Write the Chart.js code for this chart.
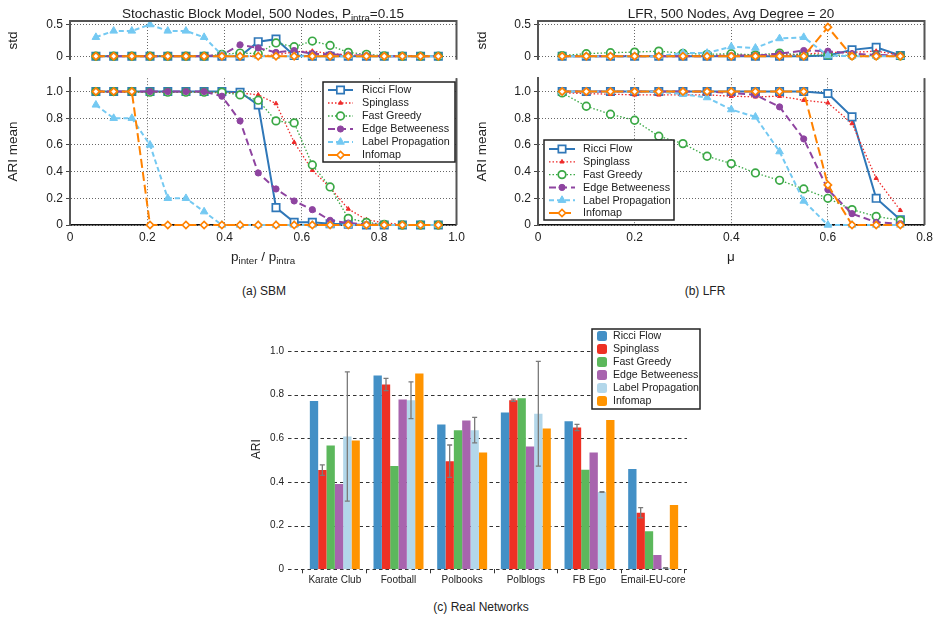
<!DOCTYPE html>
<html>
<head>
<meta charset="utf-8">
<script src="https://cdn.jsdelivr.net/npm/chart.js@4.4.0/dist/chart.umd.min.js"></script>
<style>
body { margin: 0; background: #fff; width: 938px; height: 623px; position: relative; overflow: hidden;
       font-family: "Liberation Sans", Arial, Helvetica, sans-serif; color: #222; }
canvas { position: absolute; }
.t { position: absolute; transform: translate(-50%, -50%); white-space: nowrap; }
.title { font-size: 13.5px; }
.axt { font-size: 13.5px; }
.cap { font-size: 12px; }
sub { font-size: 72%; vertical-align: -0.35em; line-height: 0; }
</style>
</head>
<body>
<canvas id="sbmStd" width="470" height="70" style="left:0px;top:0px"></canvas>
<canvas id="sbmAri" width="470" height="200" style="left:0px;top:68px"></canvas>
<canvas id="lfrStd" width="468" height="70" style="left:470px;top:0px"></canvas>
<canvas id="lfrAri" width="468" height="200" style="left:470px;top:68px"></canvas>
<canvas id="real" width="470" height="280" style="left:240px;top:320px"></canvas>

<div class="t title" style="left:263px;top:13px">Stochastic Block Model, 500 Nodes, P<sub>intra</sub>=0.15</div>
<div class="t title" style="left:731px;top:13px">LFR, 500 Nodes, Avg Degree = 20</div>
<div class="t axt" style="left:263px;top:256px">p<sub>inter</sub> / p<sub>intra</sub></div>
<div class="t axt" style="left:731px;top:256px">μ</div>
<div class="t cap" style="left:264px;top:291px">(a) SBM</div>
<div class="t cap" style="left:705px;top:291px">(b) LFR</div>
<div class="t cap" style="left:481px;top:607px">(c) Real Networks</div>

<script>
const methods = ["Ricci Flow", "Spinglass", "Fast Greedy", "Edge Betweeness", "Label Propagation", "Infomap"];

// SBM: x = p_inter / p_intra
const sbmX = [0.067, 0.113, 0.16, 0.207, 0.253, 0.3, 0.347, 0.393, 0.44, 0.487,
              0.533, 0.58, 0.627, 0.673, 0.72, 0.767, 0.813, 0.86, 0.907, 0.953];
const sbmRicci = [1, 1, 1, 1, 1, 1, 1, 1, 0.995, 0.9, 0.13, 0.02, 0.02, 0.01, 0.005, 0, 0, 0, 0, 0];
const sbmSpin  = [0.995, 0.995, 0.995, 0.995, 0.995, 0.995, 0.995, 0.99, 0.99, 0.975, 0.91, 0.62, 0.41, 0.28, 0.12, 0.04, 0.015, 0.005, 0, 0];
const sbmFast  = [1, 1, 1, 0.995, 0.995, 0.995, 0.995, 0.995, 0.975, 0.935, 0.78, 0.765, 0.45, 0.285, 0.05, 0.02, 0.005, 0, 0, 0];
const sbmEdge  = [1, 1, 1, 1, 1, 1, 1, 0.965, 0.78, 0.39, 0.27, 0.18, 0.115, 0.035, 0.015, 0.005, 0, 0, 0, 0];
const sbmLabel = [0.9, 0.8, 0.8, 0.6, 0.2, 0.2, 0.1, 0, 0, 0, 0, 0, 0, 0, 0, 0, 0, 0, 0, 0];
const sbmInfo  = [1, 1, 1, 0, 0, 0, 0, 0, 0, 0, 0, 0, 0, 0, 0, 0, 0, 0, 0, 0];

const sbmRicciStd = [0, 0, 0, 0, 0, 0, 0, 0, 0, 0.23, 0.27, 0.01, 0, 0, 0, 0, 0, 0, 0, 0];
const sbmSpinStd  = [0, 0, 0, 0, 0, 0, 0, 0, 0, 0.005, 0.02, 0.07, 0.08, 0.04, 0.02, 0.01, 0, 0, 0, 0];
const sbmFastStd  = [0, 0, 0, 0, 0, 0, 0, 0.03, 0.05, 0.04, 0.21, 0.15, 0.24, 0.17, 0.06, 0.03, 0.005, 0, 0, 0];
const sbmEdgeStd  = [0, 0, 0, 0, 0, 0, 0, 0.02, 0.18, 0.13, 0.06, 0.09, 0.04, 0.03, 0.02, 0.01, 0, 0, 0, 0];
const sbmLabelStd = [0.3, 0.4, 0.4, 0.5, 0.4, 0.4, 0.3, 0.02, 0, 0, 0, 0, 0, 0, 0, 0, 0, 0, 0, 0];
const sbmInfoStd  = [0, 0, 0, 0, 0, 0, 0, 0, 0, 0, 0, 0, 0, 0, 0, 0, 0, 0, 0, 0];

// LFR: x = mu
const lfrX = [0.05, 0.1, 0.15, 0.2, 0.25, 0.3, 0.35, 0.4, 0.45, 0.5, 0.55, 0.6, 0.65, 0.7, 0.75];
const lfrRicci = [1, 1, 1, 1, 1, 1, 1, 1, 1, 1, 1, 0.985, 0.81, 0.2, 0.04];
const lfrSpin  = [0.99, 0.985, 0.98, 0.975, 0.975, 0.975, 0.975, 0.965, 0.96, 0.965, 0.935, 0.915, 0.76, 0.35, 0.11];
const lfrFast  = [0.99, 0.89, 0.83, 0.785, 0.665, 0.61, 0.515, 0.46, 0.39, 0.335, 0.27, 0.2, 0.115, 0.065, 0.035];
const lfrEdge  = [1, 1, 1, 1, 1, 1, 1, 0.99, 0.975, 0.885, 0.645, 0.265, 0.085, 0.02, 0.01];
const lfrLabel = [1, 1, 1, 1, 1, 0.98, 0.955, 0.865, 0.81, 0.55, 0.18, 0, 0, 0, 0];
const lfrInfo  = [1, 1, 1, 1, 1, 1, 1, 1, 1, 1, 1, 0.3, 0, 0, 0];

const lfrRicciStd = [0, 0, 0, 0, 0, 0, 0, 0, 0, 0, 0, 0.01, 0.1, 0.14, 0.01];
const lfrSpinStd  = [0, 0.005, 0.01, 0.01, 0.01, 0.01, 0.01, 0.02, 0.02, 0.02, 0.03, 0.06, 0.06, 0.08, 0.02];
const lfrFastStd  = [0.01, 0.04, 0.055, 0.065, 0.08, 0.045, 0.03, 0.04, 0.02, 0.05, 0.02, 0.02, 0.01, 0.01, 0.005];
const lfrEdgeStd  = [0, 0, 0, 0, 0, 0, 0, 0.01, 0.01, 0.04, 0.09, 0.08, 0.04, 0.02, 0.01];
const lfrLabelStd = [0, 0, 0, 0, 0, 0.05, 0.05, 0.15, 0.13, 0.28, 0.3, 0.01, 0, 0, 0];
const lfrInfoStd  = [0, 0, 0, 0, 0, 0, 0, 0, 0, 0, 0, 0.46, 0, 0, 0];

// real networks
const networks = ["Karate Club", "Football", "Polbooks", "Polblogs", "FB Ego", "Email-EU-core"];
const realRicci = [0.77, 0.887, 0.663, 0.718, 0.678, 0.459];
const realSpin  = [0.454, 0.846, 0.495, 0.774, 0.649, 0.259];
const realFast  = [0.567, 0.473, 0.636, 0.783, 0.456, 0.174];
const realEdge  = [0.39, 0.777, 0.681, 0.562, 0.535, 0.066];
const realLabel = [0.608, 0.774, 0.637, 0.712, 0.354, 0.006];
const realInfo  = [0.59, 0.896, 0.535, 0.645, 0.683, 0.294];
const realSpinErr  = [0.024, 0.028, 0.074, 0.005, 0.014, 0.023];
const realLabelErr = [0.296, 0.084, 0.058, 0.24, 0.002, 0.002];

// ---- styles ----
Chart.defaults.font.family = '"Liberation Sans", Arial, Helvetica, sans-serif';
Chart.defaults.color = '#222';

const lineStyles = [
    { color: "#2f77b8", width: 2,   dash: [],       point: "rect",     r: 5.2, fill: "#fff",    pbw: 1.7 },
    { color: "#ee2a2a", width: 1.3, dash: [1.5, 2], point: "triangle", r: 2.4, fill: "#ee2a2a", pbw: 1 },
    { color: "#3aa845", width: 1.3, dash: [1.5, 2], point: "circle",   r: 3.8, fill: "#fff",    pbw: 1.7 },
    { color: "#8e44a0", width: 2,   dash: [7, 4],   point: "circle",   r: 3.1, fill: "#8e44a0", pbw: 1 },
    { color: "#74c9f2", width: 2,   dash: [5, 3],   point: "triangle", r: 4.4, fill: "#74c9f2", pbw: 1 },
    { color: "#ff8200", width: 2,   dash: [9, 4],   point: "rectRot",  r: 3.6, fill: "#fff",    pbw: 1.7 },
];
const barColors = ["#4390c6", "#ee3124", "#5cb85c", "#a864ae", "#b3d7ea", "#ff9400"];
const drawOrder = [5, 4, 3, 2, 1, 0];

const lineSets = (xs, series) =>
    series.map((ys, i) => {
        const s = lineStyles[i];
        return {
            label: methods[i],
            data: xs.map((x, j) => ({ x: x, y: ys[j] })),
            borderColor: s.color,
            borderWidth: s.width,
            borderDash: s.dash,
            pointStyle: s.point,
            pointRadius: s.r,
            pointBackgroundColor: s.fill,
            pointBorderColor: s.color,
            pointBorderWidth: s.pbw,
            tension: 0,
            clip: false,
            order: drawOrder[i],
        };
    });

// ---- plugins ----
const framePlugin = {
    id: "frame",
    afterDraw(chart, args, opts) {
        const { ctx, chartArea: a } = chart;
        ctx.save();
        ctx.strokeStyle = "#555";
        ctx.lineWidth = 2;
        ctx.beginPath();
        if (opts.top) { ctx.moveTo(a.left - 1, a.top); ctx.lineTo(a.right + 1, a.top); }
        if (opts.right) { ctx.moveTo(a.right, a.top); ctx.lineTo(a.right, a.bottom); }
        ctx.stroke();
        ctx.restore();
    },
};

const marker = (ctx, s, x, y) => {
    ctx.fillStyle = s.fill;
    ctx.strokeStyle = s.color;
    ctx.lineWidth = s.pbw;
    ctx.setLineDash([]);
    if (Chart.helpers && Chart.helpers.drawPoint) {
        Chart.helpers.drawPoint(ctx, { pointStyle: s.point, radius: s.r, borderWidth: s.pbw, rotation: 0 }, x, y);
    } else {
        ctx.beginPath();
        ctx.arc(x, y, s.r, 0, Math.PI * 2);
        ctx.fill();
        ctx.stroke();
    }
};

const boxLegend = {
    id: "boxLegend",
    afterDraw(chart, args, o) {
        if (o.x === undefined) return;
        const ctx = chart.ctx;
        ctx.save();
        ctx.fillStyle = "#fff";
        ctx.fillRect(o.x, o.y, o.w, o.h);
        ctx.strokeStyle = "#222";
        ctx.lineWidth = 1.5;
        ctx.strokeRect(o.x, o.y, o.w, o.h);
        ctx.font = o.font;
        ctx.textBaseline = "middle";
        chart.data.datasets.forEach((ds, i) => {
            const y = o.y + o.first + i * o.row;
            if (o.bars) {
                ctx.fillStyle = ds.backgroundColor;
                ctx.beginPath();
                ctx.roundRect(o.x + o.s0, y - 5, 10, 10, 2.5);
                ctx.fill();
            } else {
                const s = lineStyles[i];
                ctx.strokeStyle = s.color;
                ctx.lineWidth = s.width;
                ctx.setLineDash(s.dash);
                ctx.beginPath();
                ctx.moveTo(o.x + o.s0, y);
                ctx.lineTo(o.x + o.s1, y);
                ctx.stroke();
                marker(ctx, s, o.x + (o.s0 + o.s1) / 2, y);
            }
            ctx.fillStyle = "#222";
            ctx.fillText(ds.label, o.x + o.tx, y + 0.5);
        });
        ctx.restore();
    },
};

const errorBars = {
    id: "errorBars",
    afterDatasetsDraw(chart) {
        const ctx = chart.ctx;
        const y = chart.scales.y;
        ctx.save();
        ctx.strokeStyle = "#7a7a7a";
        ctx.lineWidth = 1.3;
        chart.data.datasets.forEach((ds, di) => {
            if (!ds.errors) return;
            chart.getDatasetMeta(di).data.forEach((bar, i) => {
                const e = ds.errors[i];
                const y0 = y.getPixelForValue(ds.data[i] - e);
                const y1 = y.getPixelForValue(ds.data[i] + e);
                ctx.beginPath();
                ctx.moveTo(bar.x, y0); ctx.lineTo(bar.x, y1);
                ctx.moveTo(bar.x - 2.5, y0); ctx.lineTo(bar.x + 2.5, y0);
                ctx.moveTo(bar.x - 2.5, y1); ctx.lineTo(bar.x + 2.5, y1);
                ctx.stroke();
            });
        });
        ctx.restore();
    },
};

const barGrid = {
    id: "barGrid",
    beforeDatasetsDraw(chart) {
        const { ctx, chartArea: a, scales: { y } } = chart;
        ctx.save();
        ctx.strokeStyle = "#333";
        ctx.lineWidth = 1.2;
        ctx.setLineDash([3.5, 3]);
        y.ticks.forEach((t) => {
            const py = Math.round(y.getPixelForValue(t.value)) + 0.5;
            ctx.beginPath();
            ctx.moveTo(a.left - 15, py);
            ctx.lineTo(a.right + 2, py);
            ctx.stroke();
        });
        ctx.restore();
    },
};

// ---- axis helpers ----
const tickLabel = (v) => (v === 0 ? "0" : Number(v).toFixed(1));
const gridDots = { color: "#666", lineWidth: 1, drawTicks: false };

const stdChart = (id, xs, series, xMax, yWidth, titlePad) =>
    new Chart(document.getElementById(id), {
        type: "line",
        data: { datasets: lineSets(xs, series) },
        options: {
            responsive: false,
            animation: false,
            events: [],
            layout: { padding: { top: 21, right: 13.5, bottom: 6, left: 0 } },
            scales: {
                x: {
                    type: "linear", min: 0, max: xMax,
                    ticks: { display: false, stepSize: 0.2 },
                    grid: gridDots,
                    border: { display: false, dash: [1, 2] },
                    afterFit: (s) => { s.height = 0; },
                },
                y: {
                    min: -0.057, max: 0.557,
                    afterBuildTicks: (s) => { s.ticks = [{ value: 0 }, { value: 0.5 }]; },
                    ticks: { font: { size: 12 }, padding: 3, callback: (v) => (v === 0 ? "0" : "0.5") },
                    grid: { color: "#666", lineWidth: 1, drawTicks: true, tickLength: 4, tickColor: "#444", tickBorderDash: [] },
                    border: { display: true, color: "#555", width: 2, dash: [1, 2] },
                    title: { display: true, text: "std", font: { size: 13.5 }, padding: { top: titlePad, bottom: 0 } },
                    afterFit: (s) => { s.width = yWidth; },
                },
            },
            plugins: { legend: { display: false }, tooltip: { enabled: false }, frame: { top: true, right: true } },
        },
        plugins: [framePlugin],
    });

const ariChart = (id, xs, series, xMax, yWidth, titlePad, legend) =>
    new Chart(document.getElementById(id), {
        type: "line",
        data: { datasets: lineSets(xs, series) },
        options: {
            responsive: false,
            animation: false,
            events: [],
            layout: { padding: { top: 4, right: 13.5, bottom: 23, left: 0 } },
            scales: {
                x: {
                    type: "linear", min: 0, max: xMax,
                    ticks: { font: { size: 12 }, stepSize: 0.2, padding: 5, callback: tickLabel },
                    grid: gridDots,
                    border: { display: true, color: "#111", width: 1.6, dash: [1, 2] },
                    afterFit: (s) => { s.height = 20; },
                },
                y: {
                    min: 0, max: 1.1,
                    afterBuildTicks: (s) => { s.ticks = s.ticks.filter((t) => t.value <= 1.0001); },
                    ticks: { font: { size: 12 }, stepSize: 0.2, padding: 3, callback: tickLabel },
                    grid: { color: "#666", lineWidth: 1, drawTicks: true, tickLength: 4, tickColor: "#444", tickBorderDash: [] },
                    border: { display: true, color: "#555", width: 2, dash: [1, 2] },
                    title: { display: true, text: "ARI mean", font: { size: 13.5 }, padding: { top: titlePad, bottom: 0 } },
                    afterFit: (s) => { s.width = yWidth; },
                },
            },
            plugins: {
                legend: { display: false },
                tooltip: { enabled: false },
                frame: { right: true },
                boxLegend: legend,
            },
        },
        plugins: [framePlugin, boxLegend],
    });

stdChart("sbmStd", sbmX, [sbmRicciStd, sbmSpinStd, sbmFastStd, sbmEdgeStd, sbmLabelStd, sbmInfoStd], 1.0, 70, 5);
ariChart("sbmAri", sbmX, [sbmRicci, sbmSpin, sbmFast, sbmEdge, sbmLabel, sbmInfo], 1.0, 70, 5,
    { x: 323, y: 14, w: 132, h: 80, first: 8, row: 13, s0: 5, s1: 30, tx: 39, font: '10.8px "Liberation Sans", Arial, sans-serif' });

stdChart("lfrStd", lfrX, [lfrRicciStd, lfrSpinStd, lfrFastStd, lfrEdgeStd, lfrLabelStd, lfrInfoStd], 0.8, 68, 4);
ariChart("lfrAri", lfrX, [lfrRicci, lfrSpin, lfrFast, lfrEdge, lfrLabel, lfrInfo], 0.8, 68, 4,
    { x: 74, y: 72, w: 130, h: 80, first: 9, row: 12.8, s0: 5, s1: 31, tx: 39, font: '10.8px "Liberation Sans", Arial, sans-serif' });

// ---- real networks bars ----
const realSeries = [realRicci, realSpin, realFast, realEdge, realLabel, realInfo];
const realErrors = [null, realSpinErr, null, null, realLabelErr, null];

new Chart(document.getElementById("real"), {
    type: "bar",
    data: {
        labels: networks,
        datasets: realSeries.map((d, i) => ({
            label: methods[i],
            data: d,
            errors: realErrors[i],
            backgroundColor: barColors[i],
            borderWidth: 0,
            categoryPercentage: 0.785,
            barPercentage: 1.0,
        })),
    },
    options: {
        responsive: false,
        animation: false,
        events: [],
        layout: { padding: { top: 9, right: 25, bottom: 10.7, left: 0 } },
        scales: {
            x: {
                ticks: { font: { size: 10 }, padding: 1, maxRotation: 0, minRotation: 0, autoSkip: false },
                grid: { display: true, drawOnChartArea: false, drawTicks: true, tickLength: 4, color: "#333", offset: true },
                border: { display: false },
                afterFit: (s) => { s.height = 20; s.paddingLeft = 0; s.paddingRight = 0; },
            },
            y: {
                min: 0, max: 1.1,
                afterBuildTicks: (s) => { s.ticks = s.ticks.filter((t) => t.value <= 1.0001); },
                ticks: { font: { size: 10 }, stepSize: 0.2, padding: 19, callback: tickLabel },
                grid: { display: false, drawTicks: false },
                border: { display: false },
                title: { display: true, text: "ARI", font: { size: 12 }, padding: { top: 9, bottom: 0 } },
                afterFit: (s) => { s.width = 63; s.paddingTop = 0; s.paddingBottom = 0; },
            },
        },
        plugins: {
            legend: { display: false },
            tooltip: { enabled: false },
            boxLegend: { bars: true, x: 352, y: 9, w: 108, h: 80, first: 7, row: 13, s0: 5, tx: 21, font: '10.6px "Liberation Sans", Arial, sans-serif' },
        },
    },
    plugins: [barGrid, errorBars, boxLegend],
});
</script>
</body>
</html>
